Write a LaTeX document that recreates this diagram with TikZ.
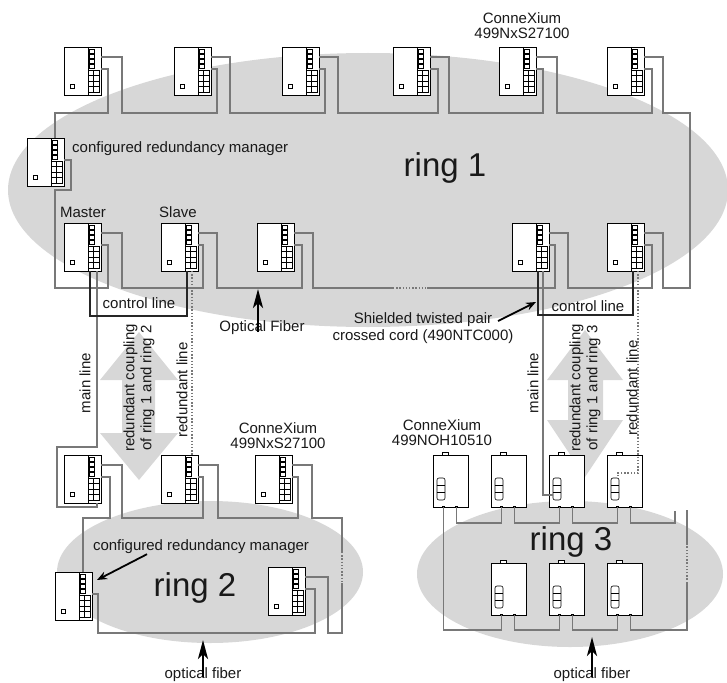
\documentclass[tikz,border=0pt]{standalone}
\usepackage{fontspec}
\setmainfont{Liberation Sans}
\usetikzlibrary{calc,arrows.meta}
\definecolor{ringgray}{RGB}{215,215,215}
\definecolor{cablegray}{RGB}{120,120,120}
\definecolor{txt}{RGB}{25,25,25}
\newcommand\fsz[1]{\fontsize{#1}{#1}\selectfont}
\newcommand\ulink[5]{\draw[cable] let \p1=(#1), \p2=(#2), \p3=(0,#3) in (\p1) -- (\x1+#4pt,\y1) -- (\x1+#4pt,\y3) -- (\x2+#5pt,\y3) -- (\x2+#5pt,\y2) -- (\p2);}
\newcommand\dlink[3]{\draw[cable] let \p1=(#1), \p2=(#2), \p3=(0,#3) in (\p1) -- (\x1,\y3) -- (\x2,\y3) -- (\p2);}
\tikzset{
  cable/.style={draw=cablegray,line width=1.5pt},
  ctrl/.style={draw=black!85,line width=1.4pt},
  dotline/.style={draw=cablegray,line width=1.4pt,dash pattern=on 1.4pt off 1.8pt},
  fine/.style={line width=0.6pt},
  lbl/.style={font=\fsz{15},text=txt,inner sep=0pt},
  twolbl/.style={font=\fontsize{15}{17}\selectfont,text=txt,inner sep=0pt,align=center},
  biglbl/.style={font=\fsz{33},text=txt,inner sep=0pt},
  pointer/.style={draw=black,line width=1.8pt,-{Stealth[length=10pt,width=8pt]}},
  fiber/.style={draw=black,line width=2.6pt,-{Stealth[length=19pt,width=10pt,inset=5pt]}},
  nxs/.pic={
    \node[draw=black,line width=0.9pt,fill=white,minimum width=37pt,minimum height=48pt,inner sep=0pt,anchor=north west] (-box) at (0,0) {};
    \draw[fine] (24,0) -- (24,48);
    \foreach \k in {0,1,2,3}{\draw[fine] (25.5,2.5+5*\k) rectangle (30,6+5*\k);}
    \draw[fine] (24,23) rectangle (35,45) (29.5,23) -- (29.5,45) (24,28.5) -- (35,28.5) (24,34) -- (35,34) (24,39.5) -- (35,39.5);
    \draw[fine] (6,37) rectangle (10,41);
    \coordinate (-up) at (37,10);
    \coordinate (-lo) at (37,22);
    \coordinate (-top) at (28,0);
    \coordinate (-b1) at (26,48);
    \coordinate (-b2) at (33,48);
    \coordinate (-b3) at (31,48);
    \coordinate (-t3) at (31,0);
  },
  noh/.pic={
    \draw[line width=0.9pt,fill=white] (9,-3) rectangle (15,0);
    \node[draw=black,line width=0.9pt,fill=white,minimum width=35pt,minimum height=52pt,inner sep=0pt,anchor=north west] (-box) at (0,0) {};
    \draw[fine,rounded corners=2pt] (4,23) rectangle (12,45);
    \draw[fine] (4,30.3) -- (12,30.3) (4,37.6) -- (12,37.6);
    \fill (9,50.5) rectangle (12,53);
    \fill (22,50.5) rectangle (25,53);
    \coordinate (-l) at (10.5,52);
    \coordinate (-r) at (23.5,52);
    \coordinate (-pl) at (4,40);
    \coordinate (-pt) at (11,23);
  }
}
\begin{document}
\begin{tikzpicture}[x=1pt,y=-1pt]
\useasboundingbox (0,0) rectangle (727,682);
% ring areas
\fill[ringgray] (368,190) ellipse [x radius=360, y radius=137];
\fill[ringgray] (210,572) ellipse [x radius=153, y radius=71];
\fill[ringgray] (570,574) ellipse [x radius=153, y radius=73];
% coupling double arrows
\fill[ringgray] (139,332) -- (178,380) -- (155,380) -- (155,433) -- (178,433) -- (139,480) -- (100,433) -- (122,433) -- (122,380) -- (100,380) -- cycle;
\fill[ringgray] (585,330) -- (623,380) -- (603,380) -- (603,420) -- (623,420) -- (585,477) -- (547,420) -- (568,420) -- (568,380) -- (547,380) -- cycle;
% ring 1 switches
\pic (s1) at (64,47) {nxs};
\pic (s2) at (174,47) {nxs};
\pic (s3) at (282,47) {nxs};
\pic (s4) at (393,47) {nxs};
\pic (s5) at (499,47) {nxs};
\pic (s6) at (607,47) {nxs};
\pic (rm1) at (27,138) {nxs};
\pic (m) at (64,223) {nxs};
\pic (sl) at (161,223) {nxs};
\pic (b3) at (257,223) {nxs};
\pic (b5) at (512,223) {nxs};
\pic (b6) at (607,223) {nxs};
% ring 2 switches
\pic (l1) at (64,455) {nxs};
\pic (l2) at (161,455) {nxs};
\pic (l3) at (255,455) {nxs};
\pic (rm2) at (55,572) {nxs};
\pic (r2) at (268,567) {nxs};
% ring 3 switches
\pic (t1) at (433,455) {noh};
\pic (t2) at (491,455) {noh};
\pic (t3) at (549,455) {noh};
\pic (t4) at (607,455) {noh};
\pic (u1) at (491,563) {noh};
\pic (u2) at (549,563) {noh};
\pic (u3) at (607,563) {noh};
% ring 1 top cables
\ulink{s1-up}{s2-lo}{113}{21}{6}
\ulink{s2-up}{s3-lo}{113}{19}{6}
\ulink{s3-up}{s4-lo}{113}{19}{8}
\ulink{s4-up}{s5-lo}{113}{19}{7}
\ulink{s5-up}{s6-lo}{113}{21}{8}
\coordinate (r1ne) at (690,113);
\coordinate (r1se) at (690,288);
\draw[cable] (s6-up) -- ++(19,0) |- (r1ne) -- (r1se) -| ($(b6-up)+(19,0)$) -- (b6-up);
\draw[cable] (s1-lo) -- ++(7,0) |- (55,113) -- (rm1-top);
\draw[cable] (rm1-lo) -| (71,190) -| (55,288) -| ($(m-lo)+(7,0)$) -- (m-lo);
% ring 1 bottom cables
\ulink{m-up}{sl-lo}{288}{21}{5}
\ulink{sl-up}{b3-lo}{288}{19}{8}
\coordinate (gapL) at (393,288);
\coordinate (gapR) at (427,288);
\draw[cable] (b3-up) -- ++(19,0) |- (gapL);
\draw[dotline] (gapL) -- (gapR);
\draw[cable] (gapR) -| ($(b5-lo)+(6,0)$) -- (b5-lo);
\ulink{b5-up}{b6-lo}{288}{19}{8}
% coupling lines
\draw[cable] (m-b2) |- (57,447) |- ($(l1-b2)+(0,4)$) -- (l1-b2);
\draw[cable] (b5-b3) |- (t3-pl);
\draw[dotline] (sl-b3) -- (l2-t3);
\draw[dotline] (b6-b3) |- ($(t4-pt)+(0,-5)$) -- (t4-pt);
\draw[ctrl] (m-b1) -- ++(0,45) -| (sl-b1);
\draw[ctrl] (b5-b1) -- ++(0,44) -| (b6-b1);
% ring 2 cables
\ulink{l1-up}{l2-lo}{518}{21}{5}
\ulink{l2-up}{l3-lo}{518}{20}{6}
\draw[cable] (l1-lo) -- ++(9,0) |- (83,518) -- (rm2-top);
\coordinate (r2a) at (342,552);
\coordinate (r2b) at (342,583);
\draw[cable] (l3-up) -- ++(20,0) |- (342,518) -- (r2a);
\draw[dotline] (r2a) -- (r2b);
\draw[cable] (r2b) |- (328,633) |- (r2-up);
\draw[cable] (r2-lo) -- ++(10,0) |- (98,633) |- (rm2-lo);
% ring 3 cables
\dlink{t1-r}{t2-l}{523}
\dlink{t2-r}{t3-l}{523}
\dlink{t3-r}{t4-l}{523}
\coordinate (r3stub) at (675,511);
\draw[cable] (t4-r) |- (675,523) -- (r3stub);
\dlink{t1-l}{u1-l}{630}
\dlink{u1-r}{u2-l}{630}
\dlink{u2-r}{u3-l}{630}
\coordinate (r3a) at (687,583);
\coordinate (r3b) at (687,543);
\coordinate (r3c) at (687,510);
\draw[cable] (u3-r) |- (687,630) -- (r3a);
\draw[dotline] (r3a) -- (r3b);
\draw[cable] (r3b) -- (r3c);
% labels
\node[twolbl] (lblA) at (522,26) {ConneXium\\[-2pt]499NxS27100};
\node[lbl,anchor=west] (rmA) at (72,149) {configured redundancy manager};
\node[biglbl] (ring1) at (445,168) {ring 1};
\node[lbl] (master) at (83,212) {Master};
\node[lbl] (slave) at (178,212) {Slave};
\node[lbl] (cl1) at (139,303) {control line};
\node[lbl] (cl2) at (588,306) {control line};
\node[lbl] (of1) at (262,328) {Optical Fiber};
\node[twolbl] (stp) at (423,328) {Shielded twisted pair\\crossed cord (490NTC000)};
\node[lbl,rotate=90] (ml1) at (85,383) {main line};
\node[lbl,rotate=90] (rl1) at (182,390) {redundant line};
\node[twolbl,rotate=90] (rc1) at (139,388) {redundant coupling\\of ring 1 and ring 2};
\node[lbl,rotate=90] (ml2) at (533,383) {main line};
\node[lbl,rotate=90] (rl2) at (632,388) {redundant line};
\node[twolbl,rotate=90] (rc2) at (585,388) {redundant coupling\\of ring 1 and ring 3};
\node[twolbl] (lblB) at (278,436) {ConneXium\\[-2pt]499NxS27100};
\node[twolbl] (lblC) at (442,433) {ConneXium\\[-2pt]499NOH10510};
\node[lbl] (rmB) at (201,547) {configured redundancy manager};
\node[biglbl] (ring2) at (195,588) {ring 2};
\node[biglbl] (ring3) at (571,542) {ring 3};
\node[lbl] (of2) at (203,675) {optical fiber};
\node[lbl] (of3) at (592,675) {optical fiber};
% pointer arrows
\coordinate (of1tip) at (258,289);
\coordinate (of2tip) at (203,640);
\coordinate (of3tip) at (592,637);
\draw[fiber] ([xshift=-4pt,yshift=-4pt]of1.center) -- (of1tip);
\draw[fiber] ([yshift=-2pt]of2.center) -- (of2tip);
\draw[fiber] ([yshift=-2pt]of3.center) -- (of3tip);
\coordinate (stpA) at (498,321);
\coordinate (stpB) at (536,302);
\draw[pointer] (stpA) -- (stpB);
\coordinate (rmBtip) at (97,580);
\draw[pointer] ([xshift=-54pt]rmB.south) -- (rmBtip);
\end{tikzpicture}
\end{document}
